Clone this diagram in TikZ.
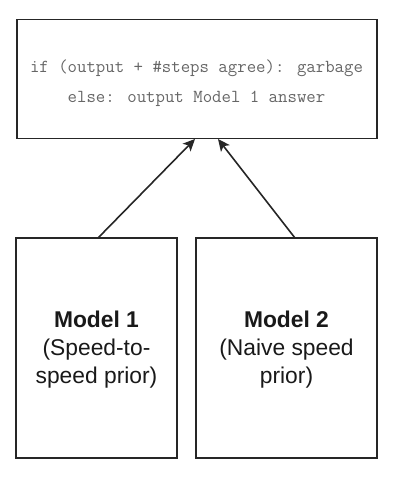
\documentclass[tikz,border=0pt]{standalone}
\usepackage{fontspec}
\setmainfont{Liberation Sans}
\usetikzlibrary{arrows.meta}
\begin{document}
\begin{tikzpicture}[x=1pt,y=-1pt,
  boxstyle/.style={draw=black!85,line width=1.6pt,inner sep=0pt},
  arr/.style={draw=black!85,line width=1.6pt,-{Stealth[length=12pt,width=11pt,inset=3pt]}},
  modeltext/.style={font=\fontsize{22.8}{28}\selectfont,align=center,text=black!90}]
\useasboundingbox (0,0) rectangle (400,482);
\node[boxstyle,minimum width=360pt,minimum height=119pt] (top) at (197,79) {};
\node[text=black!60,font=\ttfamily\fontsize{18.3}{30}\selectfont,align=center] (code) at (196.5,83)
  {if (output + \#steps agree): garbage\\else: output Model 1 answer};
\node[boxstyle,minimum width=161pt,minimum height=220pt] (m1) at (96.5,348) {};
\node[boxstyle,minimum width=181pt,minimum height=220pt] (m2) at (286.5,348) {};
\node[modeltext] (t1) at (96.5,350) {\textbf{Model 1}\\(Speed-to-\\speed prior)};
\node[modeltext] (t2) at (286.5,350) {\textbf{Model 2}\\(Naive speed\\prior)};
\coordinate (a1s) at (98,238);
\coordinate (a1e) at (195,139);
\coordinate (a2s) at (295,238);
\coordinate (a2e) at (218,139);
\draw[arr] (a1s) -- (a1e);
\draw[arr] (a2s) -- (a2e);
\end{tikzpicture}
\end{document}
